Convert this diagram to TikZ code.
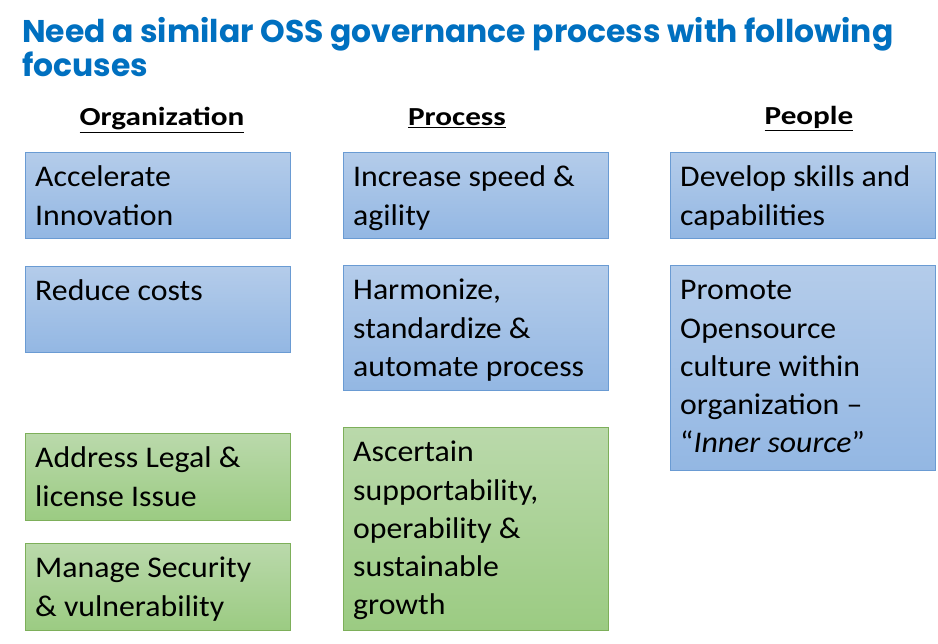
\documentclass[tikz,border=0pt]{standalone}
\usepackage{fontspec}
\setmainfont{Carlito}[FakeStretch=1.06]
\newfontfamily\headfont{Carlito}[FakeStretch=1.2]
\newfontfamily\titlefont{Poppins}
\definecolor{titleblue}{HTML}{0070C0}
\definecolor{bluetop}{HTML}{B4CCEA}
\definecolor{bluebot}{HTML}{93B7E3}
\definecolor{blueedge}{HTML}{6A9BD3}
\definecolor{greentop}{HTML}{BAD9AB}
\definecolor{greenbot}{HTML}{9BCB82}
\definecolor{greenedge}{HTML}{7DAF5A}
\tikzset{
  card/.style={anchor=north west, minimum width=265pt, inner sep=0pt, line width=1pt},
  bluecard/.style={card, draw=blueedge, top color=bluetop, bottom color=bluebot},
  greencard/.style={card, draw=greenedge, top color=greentop, bottom color=greenbot},
  cardtext/.style={anchor=north west, inner sep=0pt, align=left,
    font=\fontsize{30}{38.2}\selectfont},
  header/.style={anchor=base, inner sep=0pt, font=\headfont\fontsize{26}{30}\selectfont\bfseries}
}
\newcommand{\hdr}[1]{\underline{#1}}
\begin{document}
\begin{tikzpicture}[x=1pt,y=-1pt]
  \useasboundingbox[fill=white] (0,0) rectangle (938,644);

  % title (anchored on the baseline of its last line)
  \node[anchor=base west, inner sep=0pt, align=left, text=titleblue,
        font=\titlefont\bfseries\fontsize{31.4}{32}\selectfont] (title) at (22,77)
        {Need a similar OSS governance process with following\\focuses};

  % column headers
  \node[header] (horg) at (162,126) {\hdr{Organization}};
  \node[header] (hproc) at (457,126) {\hdr{Process}};
  \node[header] (hpeop) at (809,125) {\hdr{People}};

  % organization column
  \node[bluecard, minimum height=86pt] (acc) at (25,152) {};
  \node[bluecard, minimum height=86pt] (cost) at (25,266) {};
  \node[greencard, minimum height=87pt] (legal) at (25,433) {};
  \node[greencard, minimum height=87pt] (sec) at (25,543) {};

  % process column
  \node[bluecard, minimum height=86pt] (speed) at (343,152) {};
  \node[bluecard, minimum height=125pt] (harm) at (343,265) {};
  \node[greencard, minimum height=203pt] (supp) at (343,427) {};

  % people column
  \node[bluecard, minimum height=86pt] (skill) at (670,152) {};
  \node[bluecard, minimum height=205pt] (culture) at (670,265) {};

  % card texts
  \node[cardtext] (acct) at ([xshift=10pt,yshift=-8pt]acc.north west) {\strut Accelerate\\Innovation};
  \node[cardtext] (costt) at ([xshift=10pt,yshift=-8pt]cost.north west) {\strut Reduce costs};
  \node[cardtext] (legalt) at ([xshift=10pt,yshift=-8pt]legal.north west) {\strut Address Legal \&\\license Issue};
  \node[cardtext] (sect) at ([xshift=10pt,yshift=-8pt]sec.north west) {\strut Manage Security\\\& vulnerability};
  \node[cardtext] (speedt) at ([xshift=10pt,yshift=-8pt]speed.north west) {\strut Increase speed \&\\agility};
  \node[cardtext] (harmt) at ([xshift=10pt,yshift=-8pt]harm.north west) {\strut Harmonize,\\standardize \&\\automate process};
  \node[cardtext] (suppt) at ([xshift=10pt,yshift=-8pt]supp.north west) {\strut Ascertain\\supportability,\\operability \&\\sustainable\\growth};
  \node[cardtext] (skillt) at ([xshift=10pt,yshift=-8pt]skill.north west) {\strut Develop skills and\\capabilities};
  \node[cardtext] (culturet) at ([xshift=10pt,yshift=-8pt]culture.north west) {\strut Promote\\Opensource\\culture within\\organization --\\``\textit{Inner source}''};
\end{tikzpicture}
\end{document}
